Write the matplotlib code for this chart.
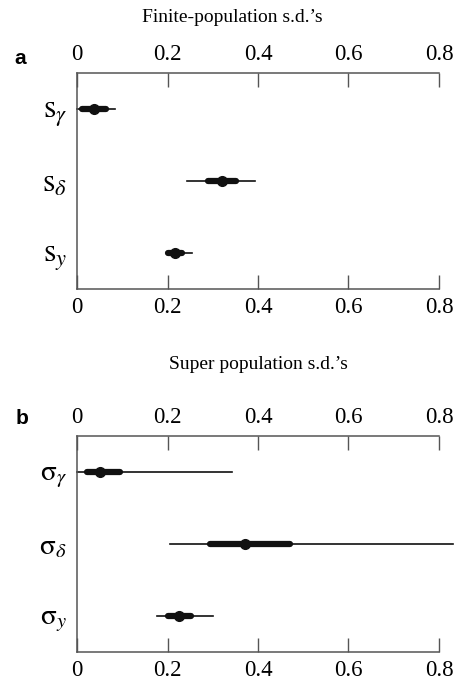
import numpy as np
import matplotlib.pyplot as plt
from matplotlib import rcParams

rcParams["font.family"] = "Liberation Serif"
rcParams["mathtext.fontset"] = "stix"

# finite-population s.d.'s : median, 50% interval, 95% interval
fin_labels = [r"$\mathrm{s}_{\gamma}$", r"$\mathrm{s}_{\delta}$", r"$\mathrm{s}_{y}$"]
fin_med = [0.037, 0.320, 0.217]
fin_lo50 = [0.011, 0.290, 0.201]
fin_hi50 = [0.064, 0.351, 0.233]
fin_lo95 = [0.000, 0.243, 0.201]
fin_hi95 = [0.084, 0.393, 0.254]

# super-population s.d.'s
sup_labels = [r"$\mathrm{σ}_{\gamma}$", r"$\mathrm{σ}_{\delta}$", r"$\mathrm{σ}_{y}$"]
sup_med = [0.051, 0.371, 0.225]
sup_lo50 = [0.022, 0.294, 0.201]
sup_hi50 = [0.095, 0.471, 0.252]
sup_lo95 = [0.000, 0.206, 0.177]
sup_hi95 = [0.342, 0.830, 0.300]

ticks = [0, 0.2, 0.4, 0.6, 0.8]
ticklabels = ["0", "0.2", "0.4", "0.6", "0.8"]

fig = plt.figure(figsize=(4.6, 6.81), dpi=100)


def panel(ax, labels, med, lo50, hi50, lo95, hi95, lsize):
    ypos = np.arange(len(labels), 0, -1)
    for y, m, a, b, c, d in zip(ypos, med, lo50, hi50, lo95, hi95):
        ax.plot([c, d], [y, y], color="#111111", lw=1.2, clip_on=False, zorder=2)
        ax.plot([a, b], [y, y], color="#111111", lw=4.5, solid_capstyle="round",
                clip_on=False, zorder=3)
        ax.plot([m], [y], "o", color="#111111", ms=7, clip_on=False, zorder=4)
    ax.set_xlim(0, 0.8)
    ax.set_ylim(0.5, len(labels) + 0.5)
    ax.set_yticks(ypos)
    ax.set_yticklabels(labels, fontsize=lsize)
    ax.tick_params(axis="y", length=0, pad=7)
    ax.set_xticks(ticks)
    ax.set_xticklabels(ticklabels, fontsize=16.5)
    ax.tick_params(axis="x", direction="in", length=10, width=1, color="#555555",
                   top=True, labeltop=True, pad=5.5)
    ax.spines["right"].set_visible(False)
    for s in ["left", "top", "bottom"]:
        ax.spines[s].set_color("#555555")
        ax.spines[s].set_linewidth(1.1)


ax1 = fig.add_axes([77/460, 1-289/681, 362/460, 216/681])
panel(ax1, fin_labels, fin_med, fin_lo50, fin_hi50, fin_lo95, fin_hi95, 23)

ax2 = fig.add_axes([77/460, 1-652/681, 362/460, 216/681])
panel(ax2, sup_labels, sup_med, sup_lo50, sup_hi50, sup_lo95, sup_hi95, 21)

fig.text(232/460, 1-17/681, "Finite-population s.d.\u2019s", ha="center", va="center", fontsize=14)
fig.text(258/460, 1-365/681, "Super population s.d.\u2019s", ha="center", va="center", fontsize=14)
fig.text(20/460, 1-58/681, "a", ha="center", va="center", fontsize=15,
         fontweight="bold", family="Liberation Sans")
fig.text(22/460, 1-419/681, "b", ha="center", va="center", fontsize=15,
         fontweight="bold", family="Liberation Sans")

fig.savefig("out.png", dpi=100)
